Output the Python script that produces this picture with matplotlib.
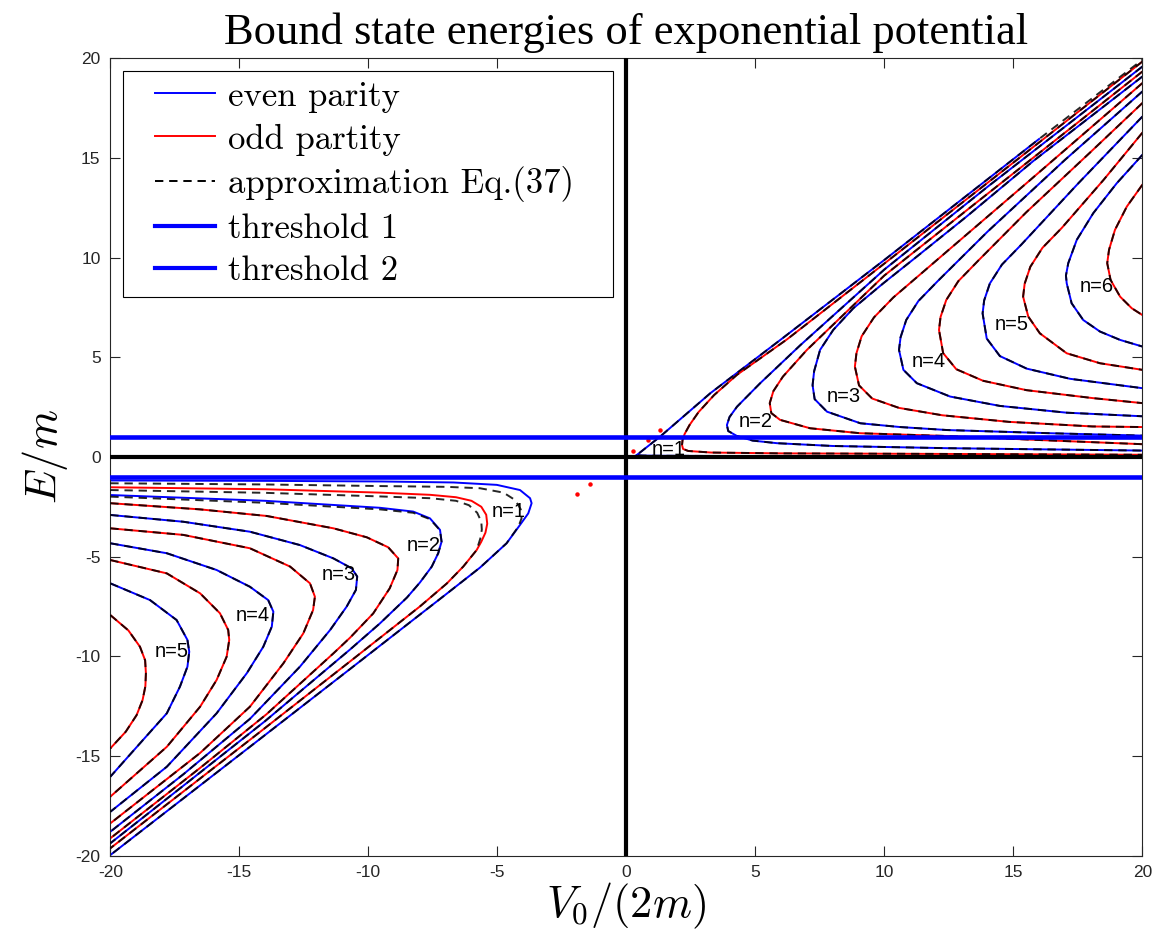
#!/usr/bin/env python3
from __future__ import annotations

import matplotlib

matplotlib.use("Agg")
import matplotlib.pyplot as plt
from matplotlib.lines import Line2D
from matplotlib.patches import Rectangle

# ---- upper right family (V0 > 0) ----
ur_b1_v0 = [20, 8, 3, 1.2, 0.6, 0.38, 0.41, 1.31, 3.26, 5.97, 10.0, 16.0]
ur_b1_e = [0.03, 0.04, 0.05, 0.06, 0.07, 0.09, 0.1, 1.02, 3.2, 5.87, 9.88, 15.95]
ur_b1_dash_v0 = ur_b1_v0 + [20]
ur_b1_dash_e = ur_b1_e + [19.92]

ur_r1_v0 = [20, 14, 10, 6.23, 4.29, 3.4, 2.8, 2.45, 2.26, 2.18, 2.16, 2.2, 2.4, 3.3, 6.0, 12.6, 20]
ur_r1_e = [19.83, 13.75, 9.7, 5.9, 4.12, 3.1, 2.25, 1.6, 1.15, 0.85, 0.6, 0.4, 0.3, 0.22, 0.18, 0.15, 0.11]

ur_b2_v0 = [20, 14, 10, 6.74, 5.19, 4.29, 4.0, 3.9, 3.95, 4.29, 4.9, 5.84, 8.0, 12.43, 20]
ur_b2_e = [19.58, 13.55, 9.4, 5.6, 3.7, 2.52, 2.0, 1.6, 1.3, 1.05, 0.82, 0.69, 0.55, 0.44, 0.32]

ur_r2_v0 = [20, 14, 10, 7.0, 6.07, 5.7, 5.56, 5.62, 5.96, 7.12, 9.06, 12.43, 16, 20]
ur_r2_e = [19.33, 13.2, 9.1, 5.37, 4.03, 3.3, 2.7, 2.2, 1.86, 1.44, 1.19, 1.05, 0.85, 0.64]

ur_b3_v0 = [20, 15.78, 13.19, 11.26, 9.96, 8.80, 8.02, 7.51, 7.28, 7.22, 7.3, 7.78, 9.07, 10.61, 12.43, 16.42, 20]
ur_b3_e = [19.08, 14.85, 12.06, 10.05, 8.71, 7.46, 6.37, 5.37, 4.3, 3.6, 2.9, 2.27, 1.69, 1.5, 1.35, 1.19, 1.07]

ur_r3_v0 = [20, 15.5, 12.5, 10.35, 9.6, 9.12, 8.92, 8.86, 9.02, 9.53, 10.57, 12.25, 14.83, 18.06, 20]
ur_r3_e = [18.75, 13.72, 10.39, 8.0, 7.0, 6.05, 5.2, 4.53, 3.59, 2.93, 2.46, 2.09, 1.76, 1.53, 1.5]

ur_b4_v0 = [20, 17, 14, 12.07, 11.32, 10.85, 10.63, 10.57, 10.74, 11.26, 12.55, 14.48, 17.07, 20]
ur_b4_e = [18.33, 14.9, 11.3, 8.82, 7.82, 6.87, 6.0, 5.37, 4.37, 3.70, 3.03, 2.56, 2.22, 2.04]

ur_r4_v0 = [20, 18, 15.5, 13.62, 12.87, 12.4, 12.18, 12.12, 12.28, 12.79, 13.83, 15.51, 18.09, 20]
ur_r4_e = [17.75, 15.3, 12.27, 9.82, 8.82, 7.87, 7.02, 6.37, 5.21, 4.40, 3.82, 3.35, 2.95, 2.7]

ur_b5_v0 = [20, 17.5, 15.31, 14.56, 14.09, 13.87, 13.81, 13.97, 14.48, 15.52, 17.2, 20]
ur_b5_e = [17.07, 13.7, 10.65, 9.65, 8.7, 7.85, 7.2, 5.94, 5.06, 4.43, 3.92, 3.45]

ur_r5_v0 = [20, 18.5, 16.88, 16.13, 15.66, 15.44, 15.38, 15.58, 16.03, 17.07, 18.36, 20]
ur_r5_e = [16.26, 13.9, 11.49, 10.49, 9.54, 8.69, 8.04, 7.04, 6.2, 5.2, 4.7, 4.37]

ur_b6_v0 = [20, 19.01, 18.10, 17.46, 17.13, 17.04, 17.07, 17.26, 17.71, 18.36, 19.14, 20]
ur_b6_e = [15.15, 13.73, 12.23, 10.89, 9.72, 9.1, 8.71, 7.71, 6.87, 6.29, 5.87, 5.54]

ur_r6_v0 = [20, 19.40, 18.94, 18.71, 18.64, 18.77, 19.14, 19.59, 20]
ur_r6_e = [13.65, 12.56, 11.39, 10.39, 9.72, 8.88, 8.04, 7.46, 7.12]

# ---- lower left family (V0 < 0) ----
ll_b1_v0 = [-20, -14, -9.5, -6.7, -5.02, -4.12, -3.73, -3.67, -3.80, -4.12, -4.64, -5.67, -7.0, -10.7, -14.6, -20]
ll_b1_e = [-1.18, -1.2, -1.23, -1.28, -1.40, -1.66, -2.07, -2.32, -2.83, -3.41, -4.33, -5.55, -6.9, -10.63, -14.55, -19.97]
ll_b1_dash_v0 = [-20, -14, -9.55, -6.96, -5.67, -4.76, -4.31, -4.09, -4.06, -4.18, -4.64, -5.67, -7.0, -10.7, -14.6, -20]
ll_b1_dash_e = [-1.32, -1.38, -1.46, -1.50, -1.57, -1.79, -2.16, -2.63, -3.08, -3.49, -4.33, -5.55, -6.9, -10.63, -14.55, -19.97]

ll_r1_v0 = [-20, -14, -9.55, -7.6, -6.6, -6.0, -5.62, -5.43, -5.39, -5.46, -5.62, -5.80, -6.32, -6.96, -8.0, -10.7, -14.5, -20]
ll_r1_e = [-1.52, -1.62, -1.79, -1.9, -2.02, -2.2, -2.5, -2.9, -3.35, -3.8, -4.25, -4.67, -5.5, -6.35, -7.5, -10.25, -14.1, -19.63]
ll_r1_dash_v0 = [-20, -14, -9.55, -7.6, -6.6, -6.1, -5.78, -5.62, -5.6, -5.66, -5.8, -6.32, -6.96, -8.0, -10.7, -14.5, -20]
ll_r1_dash_e = [-1.66, -1.8, -1.98, -2.07, -2.2, -2.42, -2.8, -3.25, -3.65, -4.1, -4.67, -5.5, -6.35, -7.5, -10.25, -14.1, -19.63]

ll_b2_v0 = [-20, -14, -9.55, -8.26, -7.61, -7.22, -7.16, -7.29, -7.54, -8.0, -8.5, -9.55, -10.7, -14.0, -17.0, -20]
ll_b2_e = [-1.91, -2.2, -2.55, -2.74, -3.08, -3.66, -4.25, -4.83, -5.5, -6.3, -7.05, -8.35, -9.65, -13.25, -16.32, -19.38]
ll_b2_dash_e = [-1.99, -2.3, -2.63, -2.8, -3.12, -3.68, -4.25, -4.83, -5.5, -6.3, -7.05, -8.35, -9.65, -13.25, -16.32, -19.38]

ll_r2_v0 = [-20, -16.52, -13.94, -11.35, -10.06, -9.23, -8.84, -8.87, -9.17, -9.81, -10.71, -11.35, -13.94, -16.52, -20]
ll_r2_e = [-2.32, -2.63, -2.96, -3.58, -4.03, -4.53, -5.09, -5.67, -6.59, -7.85, -9.07, -9.85, -12.9, -15.6, -19.13]

ll_b3_v0 = [-20, -17.17, -14.59, -12.65, -11.35, -10.64, -10.43, -10.48, -10.84, -11.48, -12.65, -14.59, -17.17, -20]
ll_b3_e = [-2.91, -3.25, -3.75, -4.42, -5.09, -5.59, -6.0, -6.67, -7.51, -8.68, -10.52, -13.14, -15.92, -18.8]

ll_r3_v0 = [-20, -17.17, -14.59, -13.03, -12.26, -12.07, -12.14, -12.52, -13.29, -14.59, -16.52, -20]
ll_r3_e = [-3.58, -3.91, -4.58, -5.5, -6.34, -7.01, -7.68, -8.85, -10.35, -12.53, -14.85, -18.38]

ll_b4_v0 = [-20, -17.81, -15.88, -14.59, -13.88, -13.68, -13.74, -14.07, -14.71, -15.88, -17.81, -20]
ll_b4_e = [-4.33, -4.83, -5.67, -6.51, -7.18, -7.76, -8.51, -9.52, -10.85, -12.86, -15.54, -17.8]

ll_r4_v0 = [-20, -17.81, -16.52, -15.75, -15.43, -15.39, -15.49, -15.88, -16.52, -17.81, -20]
ll_r4_e = [-5.17, -5.84, -6.84, -7.84, -8.68, -9.18, -10.02, -11.19, -12.53, -14.54, -17.04]

ll_b5_v0 = [-20, -18.46, -17.43, -17.01, -16.94, -17.01, -17.30, -17.81, -18.9, -20]
ll_b5_e = [-6.34, -7.18, -8.18, -9.18, -9.77, -10.52, -11.52, -12.86, -14.44, -16.04]

ll_r5_v0 = [-20, -19.3, -18.85, -18.65, -18.62, -18.64, -18.75, -18.98, -19.4, -20]
ll_r5_e = [-7.93, -8.7, -9.52, -10.2, -10.85, -11.5, -12.2, -12.95, -13.78, -14.62]

# stray red points near E = V0
dot_v0 = [0.27, 0.85, 1.31, -1.91, -1.41]
dot_e = [0.32, 0.85, 1.35, -1.86, -1.35]

threshold_levels = [1.0, -1.0]

ur_label_text = ["n=1", "n=2", "n=3", "n=4", "n=5", "n=6"]
ur_label_v0 = [1.64, 5.0, 8.43, 11.71, 14.94, 18.23]
ur_label_e = [0.35, 1.77, 3.03, 4.78, 6.62, 8.55]
ll_label_text = ["n=1", "n=2", "n=3", "n=4", "n=5"]
ll_label_v0 = [-4.55, -7.84, -11.16, -14.46, -17.62]
ll_label_e = [-2.74, -4.42, -5.92, -7.93, -9.77]

x_ticks = [-20, -15, -10, -5, 0, 5, 10, 15, 20]
y_ticks = [-20, -15, -10, -5, 0, 5, 10, 15, 20]

legend_labels = ["even parity", "odd partity", "approximation Eq.(37)", "threshold 1", "threshold 2"]

BLUE = (0, 0, 1)
RED = (1, 0, 0)
AX_GREY = (0.15, 0.15, 0.15)
DASH = (6.0, 4.2)


def main() -> None:
    plt.rcParams["mathtext.fontset"] = "cm"
    plt.rcParams["axes.unicode_minus"] = False
    plt.rcParams["lines.scale_dashes"] = False
    plt.rcParams["font.family"] = ["Liberation Sans", "DejaVu Sans"]

    fig = plt.figure(figsize=(11.61, 9.5), dpi=100)
    ax = fig.add_axes([0.0950, 0.0993, 0.8889, 0.8394])

    solid = [
        (ur_b1_v0, ur_b1_e, BLUE), (ur_r1_v0, ur_r1_e, RED),
        (ur_b2_v0, ur_b2_e, BLUE), (ur_r2_v0, ur_r2_e, RED),
        (ur_b3_v0, ur_b3_e, BLUE), (ur_r3_v0, ur_r3_e, RED),
        (ur_b4_v0, ur_b4_e, BLUE), (ur_r4_v0, ur_r4_e, RED),
        (ur_b5_v0, ur_b5_e, BLUE), (ur_r5_v0, ur_r5_e, RED),
        (ur_b6_v0, ur_b6_e, BLUE), (ur_r6_v0, ur_r6_e, RED),
        (ll_b1_v0, ll_b1_e, BLUE), (ll_r1_v0, ll_r1_e, RED),
        (ll_b2_v0, ll_b2_e, BLUE), (ll_r2_v0, ll_r2_e, RED),
        (ll_b3_v0, ll_b3_e, BLUE), (ll_r3_v0, ll_r3_e, RED),
        (ll_b4_v0, ll_b4_e, BLUE), (ll_r4_v0, ll_r4_e, RED),
        (ll_b5_v0, ll_b5_e, BLUE), (ll_r5_v0, ll_r5_e, RED),
    ]
    approx = [
        (ur_b1_dash_v0, ur_b1_dash_e), (ur_r1_v0, ur_r1_e),
        (ur_b2_v0, ur_b2_e), (ur_r2_v0, ur_r2_e),
        (ur_b3_v0, ur_b3_e), (ur_r3_v0, ur_r3_e),
        (ur_b4_v0, ur_b4_e), (ur_r4_v0, ur_r4_e),
        (ur_b5_v0, ur_b5_e), (ur_r5_v0, ur_r5_e),
        (ur_b6_v0, ur_b6_e), (ur_r6_v0, ur_r6_e),
        (ll_b1_dash_v0, ll_b1_dash_e), (ll_r1_dash_v0, ll_r1_dash_e),
        (ll_b2_v0, ll_b2_dash_e), (ll_r2_v0, ll_r2_e),
        (ll_b3_v0, ll_b3_e), (ll_r3_v0, ll_r3_e),
        (ll_b4_v0, ll_b4_e), (ll_r4_v0, ll_r4_e),
        (ll_b5_v0, ll_b5_e), (ll_r5_v0, ll_r5_e),
    ]

    for v0, e, color in solid:
        ax.plot(v0, e, color=color, lw=1.4, zorder=2, solid_joinstyle="round")
    for v0, e in approx:
        ax.plot(v0, e, color="k", lw=1.4, ls=(0, DASH), zorder=3, alpha=0.85)
    ax.plot(dot_v0, dot_e, ls="none", marker="o", ms=2.2, color=RED, zorder=3)

    ax.axhline(0, color="k", lw=3.0, zorder=4)
    ax.axvline(0, color="k", lw=3.0, zorder=4)
    for level in threshold_levels:
        ax.axhline(level, color=BLUE, lw=3.3, zorder=5)

    for txt, v0, e in zip(ur_label_text + ll_label_text, ur_label_v0 + ll_label_v0, ur_label_e + ll_label_e):
        ax.text(v0, e, txt, fontsize=14.5, ha="center", va="center", zorder=6,
                family=["Liberation Sans", "DejaVu Sans"])

    ax.set_xlim(-20, 20)
    ax.set_ylim(-20, 20)
    ax.set_xticks(x_ticks)
    ax.set_yticks(y_ticks)
    ax.tick_params(direction="in", length=7, width=0.8, top=True, right=True,
                   labelsize=12.5, color=AX_GREY, labelcolor=AX_GREY, pad=7)
    for spine in ax.spines.values():
        spine.set_color(AX_GREY)
        spine.set_linewidth(0.8)

    ax.set_xlabel("$V_0/(2m)$", fontsize=32, labelpad=0)
    ax.set_ylabel("$E/m$", fontsize=32, labelpad=4)
    ax.set_title("Bound state energies of exponential potential", fontsize=32,
                 family=["Liberation Serif", "DejaVu Serif"], pad=10)

    # legend: MATLAB-like box drawn by hand, entries without a frame
    box = Rectangle((123 / 1161, 1 - 297 / 950), 490 / 1161, 226 / 950,
                    transform=fig.transFigure, facecolor="white", edgecolor="k",
                    lw=0.8, zorder=9)
    ax.add_patch(box)
    box.set_clip_on(False)
    handles = [
        Line2D([], [], color=BLUE, lw=1.4),
        Line2D([], [], color=RED, lw=1.4),
        Line2D([], [], color="k", lw=1.4, ls=(0, DASH)),
        Line2D([], [], color=BLUE, lw=3.0),
        Line2D([], [], color=BLUE, lw=3.0),
    ]
    leg = ax.legend(handles, legend_labels, loc="upper left",
                    bbox_to_anchor=(155 / 1161, 1 - 81 / 950), bbox_transform=fig.transFigure,
                    borderaxespad=0, borderpad=0, frameon=False,
                    prop={"family": "cmr10", "size": 25},
                    handlelength=1.73, handletextpad=0.37, labelspacing=0.31)
    leg.set_zorder(10)

    fig.savefig("out.png", dpi=100)
    plt.close(fig)


if __name__ == "__main__":
    main()
